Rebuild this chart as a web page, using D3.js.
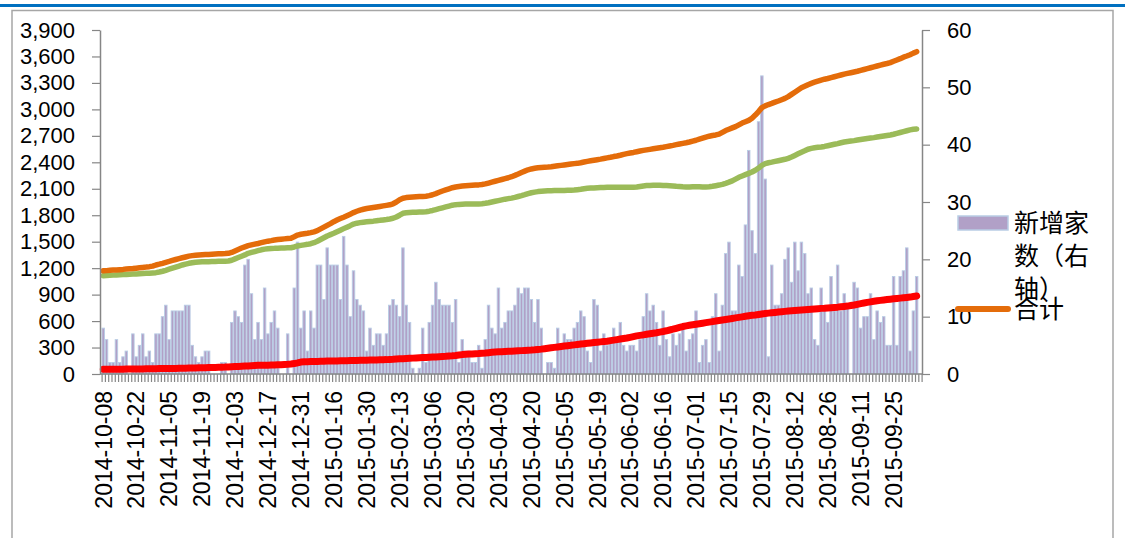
<!DOCTYPE html>
<html>
<head>
<meta charset="utf-8">
<script src="https://cdn.jsdelivr.net/npm/d3@7"></script>
<style>
  body { margin: 0; background: #fff; }
  svg { display: block; }
</style>
</head>
<body>
<div id="chart"></div>
<script>
// tick labels on the category axis (every 10th trading day)
let tickLabels = ["2014-10-08","2014-10-22","2014-11-05","2014-11-19","2014-12-03","2014-12-17",
  "2014-12-31","2015-01-16","2015-01-30","2015-02-13","2015-03-06","2015-03-20","2015-04-03",
  "2015-04-20","2015-05-05","2015-05-19","2015-06-02","2015-06-16","2015-07-01","2015-07-15",
  "2015-07-29","2015-08-12","2015-08-26","2015-09-11","2015-09-25"];

// exchange holidays (weekdays with no trading) in the period
let holidays = ["2015-01-01","2015-01-02","2015-02-18","2015-02-19","2015-02-20","2015-02-23",
  "2015-02-24","2015-04-06","2015-05-01","2015-06-22","2015-09-03","2015-09-04",
  "2015-10-01","2015-10-02","2015-10-05","2015-10-06","2015-10-07"];

let leftTicks = [0,300,600,900,1200,1500,1800,2100,2400,2700,3000,3300,3600,3900];
let rightTicks = [0,10,20,30,40,50,60];

// 新增家数（右轴）
let newCount = [
  8,6,2,2,6,2,3,4,0,7,
  3,5,7,3,4,2,7,7,10,12,
  6,11,11,11,11,12,12,5,3,2,
  3,4,4,0,0,0,2,2,0,9,
  11,10,9,19,20,14,6,9,6,15,
  7,9,11,8,0,0,7,0,15,23,
  8,11,4,11,8,19,19,13,22,19,
  19,19,13,24,19,10,18,13,12,11,
  4,8,5,7,7,5,7,12,13,12,
  10,22,12,9,1,0,1,8,2,9,
  12,16,13,12,12,12,9,13,2,6,
  4,4,2,2,5,1,6,12,8,7,
  15,8,9,11,11,12,15,14,15,15,
  13,9,13,8,0,2,2,1,8,5,
  7,6,6,8,9,11,10,4,2,13,
  12,4,7,5,6,8,6,9,5,4,
  5,5,4,6,10,14,11,12,9,5,
  11,6,3,7,5,7,8,4,6,7,
  11,2,5,6,2,10,14,4,12,21,
  23,11,11,19,17,26,39,25,21,44,
  52,34,3,19,12,12,14,20,22,16,
  23,18,23,21,14,15,6,5,15,11,
  9,17,11,19,11,14,12,0,16,15,
  8,10,10,14,6,11,9,10,5,5,
  17,5,17,18,22,4,11,17
];

// 合计
let totalSeries = [
  1170,1172,1175,1178,1180,1183,1186,1190,1193,1196,
  1200,1204,1208,1212,1217,1223,1236,1245,1255,1266,
  1276,1287,1298,1308,1318,1327,1336,1342,1346,1350,
  1352,1354,1356,1358,1360,1362,1364,1365,1368,1378,
  1395,1412,1428,1442,1455,1464,1472,1480,1489,1498,
  1506,1512,1519,1524,1528,1532,1536,1540,1557,1575,
  1584,1590,1596,1603,1612,1625,1645,1665,1685,1705,
  1727,1745,1762,1778,1795,1812,1830,1845,1858,1868,
  1876,1882,1888,1894,1900,1906,1912,1918,1930,1950,
  1975,1992,2000,2004,2007,2009,2011,2013,2016,2022,
  2032,2045,2060,2075,2088,2100,2112,2120,2126,2131,
  2135,2138,2140,2142,2144,2148,2155,2165,2175,2185,
  2195,2205,2215,2225,2237,2252,2268,2285,2300,2315,
  2325,2332,2338,2342,2345,2347,2350,2355,2360,2365,
  2370,2375,2380,2385,2388,2395,2403,2411,2418,2424,
  2430,2436,2443,2450,2457,2465,2472,2480,2490,2498,
  2505,2512,2520,2528,2535,2541,2547,2553,2559,2565,
  2571,2578,2585,2592,2600,2608,2615,2622,2630,2640,
  2650,2662,2674,2686,2696,2704,2710,2720,2740,2760,
  2775,2790,2805,2825,2845,2860,2875,2900,2935,2975,
  3020,3040,3055,3068,3082,3095,3110,3125,3145,3170,
  3195,3220,3245,3262,3280,3295,3308,3320,3332,3342,
  3350,3360,3370,3380,3390,3400,3408,3416,3424,3432,
  3442,3452,3462,3472,3482,3492,3502,3512,3520,3530,
  3545,3560,3575,3592,3605,3620,3638,3654
];

// green series
let greenSeries = [
  1115,1117,1119,1121,1123,1125,1127,1129,1131,1133,
  1135,1137,1139,1141,1143,1146,1149,1156,1165,1176,
  1188,1200,1212,1224,1236,1246,1255,1262,1267,1270,
  1272,1273,1274,1275,1276,1277,1278,1279,1281,1290,
  1305,1320,1335,1350,1368,1378,1388,1398,1408,1416,
  1421,1424,1425,1427,1428,1429,1430,1431,1440,1452,
  1458,1464,1470,1477,1489,1505,1525,1545,1565,1580,
  1595,1612,1630,1648,1665,1682,1700,1710,1716,1721,
  1725,1729,1733,1738,1742,1747,1752,1758,1765,1780,
  1800,1822,1828,1831,1833,1835,1837,1838,1840,1846,
  1854,1864,1874,1884,1894,1904,1914,1920,1923,1925,
  1926,1927,1927,1928,1928,1930,1935,1942,1950,1958,
  1966,1974,1982,1988,1994,2002,2012,2022,2033,2045,
  2055,2062,2068,2072,2075,2077,2078,2079,2079,2080,
  2081,2082,2083,2086,2090,2094,2100,2105,2108,2110,
  2112,2114,2115,2116,2117,2117,2118,2118,2118,2117,
  2116,2116,2120,2126,2132,2136,2138,2139,2140,2140,
  2138,2136,2134,2132,2128,2125,2122,2120,2121,2123,
  2124,2123,2121,2120,2122,2128,2135,2142,2150,2162,
  2175,2190,2210,2230,2245,2260,2275,2290,2310,2335,
  2365,2385,2395,2402,2410,2418,2426,2434,2445,2460,
  2478,2496,2514,2530,2548,2558,2565,2570,2574,2580,
  2588,2596,2604,2612,2622,2630,2636,2641,2646,2652,
  2658,2664,2670,2675,2680,2686,2692,2698,2704,2710,
  2718,2728,2738,2748,2758,2768,2774,2777
];

// red series
let redSeries = [
  53,53,54,54,55,55,55,56,56,57,
  57,58,58,59,59,60,60,61,61,62,
  62,63,63,64,65,66,67,68,69,70,
  71,72,73,74,75,76,77,78,80,82,
  84,86,88,90,92,94,96,98,99,100,
  100,101,102,104,106,108,110,113,118,126,
  135,138,140,141,142,143,144,145,146,147,
  147,148,149,150,151,152,153,154,155,156,
  157,158,159,160,161,162,163,165,167,170,
  172,174,176,178,180,182,184,186,188,190,
  192,194,196,198,200,203,206,210,215,220,
  223,226,228,230,232,235,238,242,246,249,
  251,253,255,257,259,261,263,265,267,269,
  271,274,278,282,287,292,297,302,307,312,
  317,321,325,330,335,340,344,348,352,356,
  360,364,368,372,378,384,390,396,402,408,
  416,424,432,438,444,450,456,462,468,475,
  482,490,499,508,518,528,538,546,552,558,
  564,570,576,582,588,594,600,606,612,618,
  624,630,636,642,648,654,660,665,669,675,
  681,686,690,694,698,702,706,710,714,717,
  720,723,726,729,732,735,738,741,744,746,
  749,752,755,758,762,766,770,776,782,790,
  798,805,812,818,824,830,835,840,844,848,
  852,856,860,864,868,872,878,884
];

// trading calendar: weekdays minus holidays
let fmt = d3.utcFormat("%Y-%m-%d");
let dates = d3.utcDays(new Date(Date.UTC(2014, 9, 8)), new Date(Date.UTC(2015, 9, 15)))
  .filter(d => d.getUTCDay() != 0 && d.getUTCDay() != 6)
  .map(fmt)
  .filter(s => holidays.indexOf(s) < 0);

let width = 1125, height = 538;
let plot = {left: 100, right: 922, top: 30, bottom: 374};
let axisColor = "#868686";
let numFont = "'Liberation Sans', Arial, sans-serif";
let cjkFont = "'Noto Sans CJK SC', sans-serif";

let svg = d3.select("#chart").append("svg")
  .attr("width", width)
  .attr("height", height);

svg.append("rect").attr("width", width).attr("height", height).attr("fill", "#fff");
// blue rule at the top and the chart frame
svg.append("rect").attr("x", 0).attr("y", 4).attr("width", width).attr("height", 3).attr("fill", "#0070c0");
svg.append("rect").attr("x", 12).attr("y", 10.5).attr("width", 1101).attr("height", 560)
  .attr("fill", "none").attr("stroke", "#a6a6a6").attr("stroke-width", 1.5);

let x = d3.scaleBand()
  .domain(dates)
  .range([101.6, 921.6])
  .padding(0);

let yLeft = d3.scaleLinear().domain([0, 3900]).range([plot.bottom, plot.top]);
let yRight = d3.scaleLinear().domain([0, 60]).range([plot.bottom, plot.top]);

// bars (right axis)
let bw = x.bandwidth();
svg.append("g")
  .selectAll("rect")
  .data(newCount)
  .enter().append("rect")
    .attr("x", (d, i) => x(dates[i]) + bw * 0.12)
    .attr("width", bw * 0.76)
    .attr("y", d => yRight(d))
    .attr("height", d => plot.bottom - yRight(d))
    .attr("fill", "#b1a0c7")
    .attr("stroke", "#b9cde5")
    .attr("stroke-width", 0.9);

// lines (left axis)
let line = d3.line()
  .x((d, i) => x(dates[i]) + bw / 2)
  .y(d => yLeft(d));

let series = [
  {values: redSeries, color: "#ff0000", w: 7},
  {values: greenSeries, color: "#9bbb59", w: 5.5},
  {values: totalSeries, color: "#e46c0a", w: 5.5}
];
series.forEach(s => {
  svg.append("path")
    .datum(s.values)
    .attr("d", line)
    .attr("fill", "none")
    .attr("stroke", s.color)
    .attr("stroke-width", s.w)
    .attr("stroke-linejoin", "round")
    .attr("stroke-linecap", "round");
});

// left axis
let gl = svg.append("g")
  .attr("transform", "translate(" + plot.left + ",0)")
  .call(d3.axisLeft(yLeft).tickValues(leftTicks).tickFormat(d3.format(",")).tickSize(8).tickSizeOuter(0).tickPadding(17));

// right axis
let gr = svg.append("g")
  .attr("transform", "translate(" + plot.right + ",0)")
  .call(d3.axisRight(yRight).tickValues(rightTicks).tickSize(8).tickSizeOuter(0).tickPadding(17));

// category tick marks between every bar
let xi = d3.scaleLinear().domain([0, dates.length]).range(x.range());
let gt = svg.append("g")
  .attr("transform", "translate(0," + plot.bottom + ")")
  .call(d3.axisBottom(xi).tickValues(d3.range(dates.length + 1)).tickFormat("").tickSize(8).tickSizeOuter(0));
gt.select(".domain").remove();

// x axis line
svg.append("line")
  .attr("x1", plot.left).attr("x2", plot.right)
  .attr("y1", plot.bottom).attr("y2", plot.bottom)
  .attr("stroke", axisColor).attr("stroke-width", 1.5);

// rotated date labels
let gx = svg.append("g")
  .attr("transform", "translate(0," + plot.bottom + ")")
  .call(d3.axisBottom(x).tickValues(tickLabels).tickSize(0).tickPadding(0));
gx.select(".domain").remove();
gx.selectAll("text")
  .attr("transform", "translate(0,17) rotate(-90)")
  .attr("x", 0).attr("y", 0).attr("dy", "0.36em")
  .style("text-anchor", "end")
  .style("font-family", numFont)
  .style("font-size", "23px")
  .attr("fill", "#000");

[gl, gr, gt].forEach(g => {
  g.selectAll(".domain").attr("stroke", axisColor).attr("stroke-width", 1.5);
  g.selectAll(".tick line").attr("stroke", axisColor).attr("stroke-width", 1.2);
});
[gl, gr].forEach(g => {
  g.selectAll("text")
    .style("font-family", numFont)
    .style("font-size", "22px")
    .attr("fill", "#000");
});

// legend (partly cut off, as in the original)
let legend = svg.append("g");
legend.append("rect")
  .attr("x", 958).attr("y", 216).attr("width", 50).attr("height", 14)
  .attr("fill", "#b1a0c7").attr("stroke", "#b9cde5").attr("stroke-width", 1.5);
["新增家", "数（右", "轴）"].forEach((t, i) => {
  legend.append("text")
    .attr("x", 1014).attr("y", 232 + i * 33)
    .style("font-family", cjkFont).style("font-size", "25px")
    .attr("fill", "#000")
    .text(t);
});
legend.append("line")
  .attr("x1", 958).attr("x2", 1008).attr("y1", 309).attr("y2", 309)
  .attr("stroke", "#e46c0a").attr("stroke-width", 6).attr("stroke-linecap", "round");
legend.append("text")
  .attr("x", 1014).attr("y", 318)
  .style("font-family", cjkFont).style("font-size", "25px")
  .attr("fill", "#000")
  .text("合计");
</script>
</body>
</html>
